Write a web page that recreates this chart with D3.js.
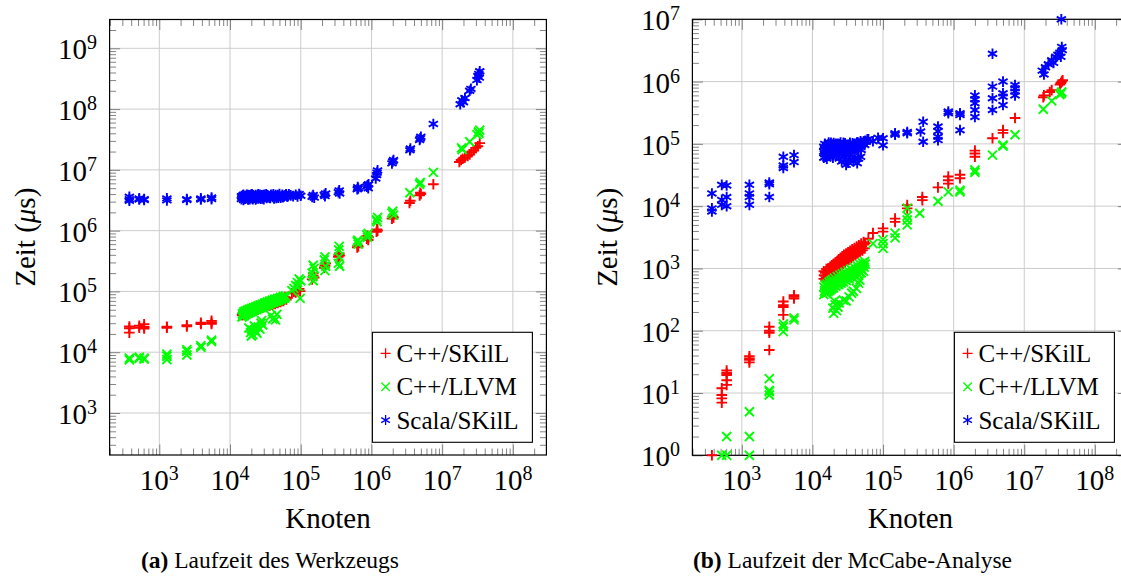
<!DOCTYPE html>
<html><head><meta charset="utf-8">
<script src="https://cdn.jsdelivr.net/npm/d3@7"></script>
<style>body{margin:0;background:#fff}svg{display:block}</style>
</head><body>
<svg id="c" width="1121" height="576"></svg>
<script>
const seriesNames = ["C++/SKilL", "C++/LLVM", "Scala/SKilL"];
const seriesColors = ["#ff0000", "#00ff00", "#0000ff"];
const seriesMarks = ["plus", "times", "asterisk"];
const xTickValues = [1e3, 1e4, 1e5, 1e6, 1e7, 1e8];
const yTickValuesA = [1e3, 1e4, 1e5, 1e6, 1e7, 1e8, 1e9];
const yTickValuesB = [1e0, 1e1, 1e2, 1e3, 1e4, 1e5, 1e6, 1e7];
const xLabel = "Knoten";
const captionA = ["(a)", " Laufzeit des Werkzeugs"];
const captionB = ["(b)", " Laufzeit der McCabe-Analyse"];

// ---------- (a) Laufzeit des Werkzeugs ----------
const aSkill = [
[377,24800],[377,21000],[377,26500],[520,25300],[520,27200],[610,26000],[610,24600],[610,28800],[1280,26200],[1280,25300],[2450,27800],[2450,26600],[3870,30500],[3870,29200],[5480,30800],[5480,29300],[5480,32800],
[14800,41500],[15200,43800],[15600,42500],[16000,45200],[16500,44000],[17000,46300],[17500,45100],[18000,47500],[18600,46400],[19200,49000],[19800,47800],[20500,50200],[21200,49100],[22000,51800],[22800,50500],[23600,53200],[24500,52000],[25400,54800],[26300,53600],[27300,56200],[28300,55000],[29400,57800],[30500,56600],[31700,59500],[33000,58000],[34400,61200],[35800,60000],[37300,63000],[38900,61800],[40600,64800],[42400,63500],[44300,66800],[46300,65500],[48400,69000],[50600,68000],[53000,71500],[55500,70500],[58000,74000],[61000,76500],[64000,79000],
[15000,40500],[15400,45500],[15800,41500],[16200,47000],[16800,43000],[17200,48500],[17800,44500],[18300,50000],[18900,45800],[19500,51500],[20100,47200],[20800,53000],[21600,48600],[22400,54800],[23200,50000],[24000,56500],[25000,51500],[25900,58500],[26800,53000],[27800,60500],[28800,54500],[29900,62500],[31100,56000],[32300,64500],[33700,57500],[35100,66500],[36500,59000],[38100,68500],[39700,60500],[41500,70500],[43300,62500],[45300,73000],[47300,64500],[49500,75500],[51800,67000],[54200,78000],[56800,70000],[59500,80500],[62500,73500],
[75000,93000],[80000,99000],[85000,96000],[90000,104000],[95000,110000],[98000,101000],
[145000,158000],[150000,182000],[150000,198000],[155000,170000],
[215000,245000],[220000,268000],[225000,290000],[220000,255000],
[340000,372000],[345000,400000],[350000,425000],[355000,390000],
[630000,530000],[640000,565000],[650000,550000],
[860000,740000],[880000,820000],[900000,700000],[910000,780000],
[1180000,960000],[1200000,1050000],[1220000,1000000],
[1950000,1580000],[2000000,1720000],[2050000,1650000],
[3450000,2850000],[3550000,3100000],
[4800000,3800000],[4900000,4200000],[5000000,4000000],
[7500000,5800000],
[17500000,13500000],[18500000,14500000],[19500000,15200000],[21000000,16000000],[23000000,17000000],[24500000,18000000],[26000000,19500000],[28000000,21000000],[30000000,23000000],[32000000,24500000],[34000000,27500000]
];
const aLlvm = [
[377,7500],[377,8000],[520,7900],[520,8300],[610,8000],[610,7700],[1280,7600],[1280,8600],[1280,9300],[2450,9000],[2450,10300],[2450,11000],[3870,12000],[3870,12800],[5480,15000],[5480,15800],
[14800,38000],[15200,41000],[15600,44000],[16000,40000],[16500,45500],[17000,42500],[17500,47000],[18000,44000],[18600,48500],[19200,45500],[19800,50000],[20500,47000],[21200,51500],[22000,49000],[22800,53500],[23600,50500],[24500,55500],[25400,52500],[26300,57500],[27300,54500],[28300,59500],[29400,56500],[30500,62000],[31700,58500],[33000,64000],[34400,61000],[35800,66500],[37300,63500],[38900,69000],[40600,66000],[42400,71500],[44300,68500],[46300,74000],[48400,71000],[50600,77000],[53000,74000],[55500,80000],[58000,77000],[61000,84000],
[15000,43000],[15400,39500],[15800,46500],[16200,42000],[16800,48000],[17200,43500],[17800,49500],[18300,45000],[18900,51000],[19500,46500],[20100,52500],[20800,48000],[21600,54000],[22400,50000],[23200,56000],[24000,51500],[25000,58000],[25900,53500],[26800,60000],[27800,55500],[28800,62000],[29900,57500],[31100,64500],[32300,59500],[33700,67000],[35100,62000],[36500,69500],[38100,64500],[39700,72000],[41500,67000],[43300,74500],[45300,69500],[47300,77000],[49500,72500],[51800,80000],[54200,75500],[56800,83000],[59500,79000],
[18500,25000],[19500,21000],[20000,18500],[20500,23000],[21000,19500],[22000,27000],[23000,22500],[24000,20500],[25000,26000],[26500,24000],[27500,30000],[29000,28000],[28000,33000],[38000,40000],[40000,35000],[42000,37000],[44000,34000],[46000,42000],
[75000,103000],[80000,112000],[85000,125000],[90000,140000],[95000,160000],[98000,77000],[92000,120000],[100000,150000],
[145000,200000],[150000,270000],[150000,150000],[155000,240000],[148000,175000],
[215000,330000],[220000,370000],[225000,260000],[220000,220000],
[340000,290000],[345000,480000],[350000,550000],[355000,260000],[348000,370000],
[630000,660000],[650000,600000],[640000,700000],
[860000,850000],[880000,780000],[900000,900000],
[1180000,1500000],[1200000,1400000],[1220000,1650000],
[1950000,1950000],[2000000,2100000],[2050000,1800000],
[3500000,4200000],
[4800000,5800000],[4900000,6200000],
[7500000,9100000],
[18800000,23000000],[19200000,21500000],[24500000,29000000],[31000000,38000000],[32500000,42000000],[34000000,45000000],[33000000,40000000]
];
const aScala = [
[377,3300000],[377,3600000],[377,3100000],[520,3250000],[520,3400000],[610,3300000],[610,3200000],[1280,3400000],[1280,3150000],[2450,3300000],[2450,3200000],[3870,3250000],[3870,3400000],[5480,3500000],[5480,3300000],
[14500,3300000],[14500,3700000],[15000,3500000],[15500,3200000],[15500,3900000],[16000,3600000],[16500,3350000],[17000,3750000],[17500,3450000],[18000,3250000],[18000,3850000],[18500,3550000],[19000,3300000],[19500,3700000],[20000,3450000],[20500,3950000],[21000,3300000],[21500,3650000],[22000,3500000],[23000,3850000],[23000,3250000],[24000,3600000],[25000,3400000],[25000,3950000],[26000,3700000],[27000,3350000],[28000,3800000],[29000,3550000],[30000,3300000],[31000,3900000],[32000,3600000],[33000,3450000],[34000,3800000],[36000,3500000],[38000,3900000],[40000,3600000],[42000,3400000],[44000,3850000],[46000,3650000],[48000,3500000],[50000,4000000],[53000,3700000],[56000,3550000],[60000,3800000],[64000,3650000],[68000,3950000],
[14800,3500000],[15200,3800000],[15800,3400000],[16300,3700000],[16800,3500000],[17300,3900000],[17800,3600000],[18300,3400000],[18800,3800000],[19300,3500000],[19800,3900000],[20300,3600000],[20800,3400000],[21300,3800000],[22500,3600000],[23500,3400000],[24500,3800000],[25500,3550000],[26500,3900000],[27500,3600000],[28500,3400000],[29500,3850000],[30500,3650000],[32500,3950000],[35000,3700000],[37000,3450000],[39000,3750000],[41000,3950000],[43000,3650000],[45000,3450000],[47000,3850000],[49000,3700000],[52000,3500000],[55000,3900000],[58000,3650000],[62000,3950000],[66000,3700000],[72000,3800000],[78000,3700000],
[85000,3900000],[90000,3650000],[95000,4000000],[100000,3750000],
[145000,3600000],[150000,3850000],[155000,3500000],
[215000,3900000],[220000,3700000],[225000,4100000],
[340000,4300000],[350000,4600000],[355000,4100000],
[630000,4800000],[640000,5200000],[650000,4950000],
[860000,5300000],[880000,5600000],[900000,5000000],[910000,5800000],
[1150000,7200000],[1180000,8200000],[1200000,9000000],[1220000,9800000],
[1950000,12800000],[2000000,13700000],[2050000,14500000],
[3500000,21000000],[3550000,22500000],
[4800000,31000000],[4900000,33000000],[5000000,35000000],
[7500000,57000000],
[18000000,120000000],[19000000,140000000],[20000000,130000000],[21000000,152000000],[24500000,200000000],[25500000,215000000],[31000000,300000000],[32000000,350000000],[33000000,380000000],[34000000,420000000],[33500000,330000000]
];

// ---------- (b) Laufzeit der McCabe-Analyse ----------
const bSkill = [
[377,1],[520,7],[520,9.3],[520,11.9],[520,8.2],[610,16],[610,19.5],[610,23],[610,13.5],[610,21],[1280,36],[1280,31],[1280,39],[1280,34],[2450,93],[2450,116],[2450,49],[2450,100],[3870,258],[3870,180],[3870,295],[3870,240],[5480,330],[5480,372],[5480,350],
[14500,680],[14500,900],[15000,760],[15200,850],[15600,720],[16000,880],[16400,800],[16800,940],[17200,830],[17600,980],[18000,900],[18500,1020],[19000,930],[19500,1080],[20000,980],[20500,1120],[21000,1030],[21500,1170],[22000,1080],[22600,1220],[23200,1130],[23800,1280],[24500,1180],[25200,1340],[26000,1240],[26800,1410],[27600,1300],[28500,1480],[29500,1370],[30500,1560],[31500,1450],[32500,1650],[33600,1520],[34800,1730],[36000,1600],[37300,1820],[38600,1690],[40000,1920],[41500,1780],[43000,2030],[44600,1880],[46300,2150],[48000,1980],[50000,2280],[52000,2100],[54000,2420],[56000,2550],
[14600,780],[15400,640],[15800,980],[16200,700],[16600,1000],[17400,760],[17800,1060],[18200,820],[18800,1120],[19200,860],[19800,1180],[20400,900],[21200,1250],[21800,960],[22400,1320],[23000,1020],[23600,1400],[24200,1080],[25000,1480],[25800,1140],[26500,1560],[27200,1200],[28000,1650],[29000,1260],[30000,1740],[31000,1330],[32000,1820],[33000,1400],[34200,1920],[35400,1480],[36600,2020],[38000,1560],[39400,2120],[40800,1650],[42300,2240],[43800,1740],[45500,2360],[47200,1840],[49000,2500],[51000,1950],[53000,2650],[55000,2100],
[62000,3000],[72000,3700],[100000,4400],[100000,3900],[148000,6300],[148000,5600],[220000,10400],[220000,9200],[360000,14000],[360000,12500],[600000,20000],[840000,23000],[840000,30000],[840000,26000],[1230000,32000],[1230000,28000],[2000000,70000],[2000000,62000],[2000000,78000],[3550000,123000],[5000000,166000],[5000000,150000],[7400000,260000],[18600000,560000],[19000000,600000],[24500000,730000],[23000000,680000],[32000000,900000],[34000000,1000000],[33000000,950000],[35000000,1050000]
];
const bLlvm = [
[520,1],[610,1],[610,2],[1280,1],[1280,2],[1280,5],[2450,9.3],[2450,10.5],[2450,17],[2450,11],[3870,97],[3870,116],[3870,129],[5480,149],[5480,160],
[14500,380],[14500,500],[15000,440],[15500,470],[16000,420],[16500,510],[17000,460],[17500,540],[18000,480],[18500,560],[19000,500],[19500,590],[20000,530],[21000,600],[22000,560],[23000,640],[24000,590],[25000,680],[26000,620],[27000,720],[28000,660],[29500,760],[31000,700],[32500,800],[34000,740],[36000,850],[38000,790],[40000,900],[42000,840],[44000,960],[46000,900],[48000,1020],[50000,960],[52000,1100],[54000,1050],[56000,1180],
[14800,420],[15200,540],[15800,400],[16200,560],[16800,430],[17200,600],[17800,450],[18200,630],[18800,470],[19200,660],[19800,490],[20500,700],[21500,520],[22500,740],[23500,550],[24500,780],[25500,580],[26500,820],[27500,610],[28800,870],[30200,640],[31800,920],[33200,680],[35000,980],[37000,720],[39000,1040],[41000,760],[43000,1100],[45000,800],[47000,1160],[49000,850],[51000,1230],[53000,900],[55000,1300],
[19500,230],[20000,190],[21000,260],[22000,210],[24000,280],[27500,310],[30000,300],[33000,350],[36000,400],[38000,430],[42000,480],[45000,580],[47000,650],[20500,300],[23000,240],
[72000,2500],[100000,2500],[100000,2900],[100000,2100],[148000,3100],[148000,3700],[220000,5000],[220000,7000],[220000,9300],[220000,6000],[330000,7700],[600000,12000],[840000,17000],[1230000,17000],[1230000,18000],[2000000,38000],[2000000,35000],[3550000,66000],[5000000,92000],[5000000,96000],[7400000,140000],[18600000,360000],[24500000,490000],[32000000,620000],[34000000,680000],[33500000,650000]
];
const bScala = [
[377,16000],[377,9200],[377,8200],[520,22000],[520,12600],[520,10500],[610,21500],[610,10000],[610,14000],[1280,22000],[1280,14000],[1280,10500],[1280,16000],[2450,24000],[2450,14000],[2450,22500],[3870,62000],[3870,41000],[3870,45000],[5480,66000],[5480,51000],
[14500,60000],[14500,75000],[14500,90000],[15000,68000],[15000,100000],[15500,82000],[16000,58000],[16000,95000],[16500,72000],[17000,88000],[17000,105000],[17500,64000],[18000,80000],[18000,98000],[18500,70000],[19000,92000],[19500,60000],[20000,85000],[20000,103000],[21000,75000],[21000,95000],[22000,66000],[22000,88000],[23000,100000],[23000,78000],[24000,58000],[24000,92000],[25000,84000],[25000,105000],[26000,70000],[27000,96000],[28000,80000],[28000,62000],[29000,102000],[30000,88000],[30000,46000],[31000,74000],[32000,96000],[33000,82000],[34000,104000],[35000,68000],[36000,92000],[38000,85000],[40000,100000],[42000,90000],[43000,49000],[44000,105000],[46000,95000],[48000,62000],[48000,110000],[50000,98000],[53000,108000],[56000,112000],[60000,118000],[33000,55000],[38000,52000],[45000,58000],
[14800,82000],[15200,62000],[15800,92000],[16200,76000],[16800,98000],[17300,70000],[17800,90000],[18300,104000],[18800,84000],[19300,66000],[19800,96000],[20500,78000],[21500,100000],[22500,84000],[23500,70000],[24500,98000],[25500,76000],[26500,90000],[27500,104000],[28500,86000],[29500,72000],[31500,90000],[33500,98000],[35500,80000],[37000,102000],[39000,76000],[41000,94000],[43000,106000],[45000,86000],[47000,100000],[49000,80000],[52000,102000],[55000,96000],[58000,108000],[32000,50000],[26000,52000],[40000,60000],
[62000,118000],[72000,110000],[85000,125000],[100000,123000],[100000,95000],[148000,148000],[148000,140000],[220000,148000],[220000,155000],[340000,158000],[370000,226000],[370000,108000],[600000,190000],[600000,160000],[600000,130000],[600000,115000],[840000,330000],[840000,310000],[1230000,310000],[1230000,166000],[1230000,290000],[2000000,450000],[2000000,600000],[2000000,520000],[2000000,350000],[2000000,270000],[3550000,2800000],[3550000,830000],[3550000,540000],[3550000,350000],[5000000,1000000],[5000000,570000],[5000000,420000],[5000000,650000],[7400000,880000],[7400000,690000],[7400000,780000],[7400000,600000],[18000000,1500000],[19000000,1300000],[20000000,1700000],[22000000,1900000],[24500000,2200000],[26000000,2000000],[28000000,2500000],[30000000,2700000],[32000000,2900000],[34000000,3600000],[33000000,2500000],[34500000,3200000],[33500000,10000000]
];

const FONT = "'Liberation Serif','Times New Roman',serif";
const svg = d3.select("#c");
svg.append("rect").attr("width", 1121).attr("height", 576).attr("fill", "#fff");

function markPath(kind, r) {
  if (kind === "plus") return `M${-r},0H${r}M0,${-r}V${r}`;
  if (kind === "times") { const q = r * 0.85; return `M${-q},${-q}L${q},${q}M${-q},${q}L${q},${-q}`; }
  const t = r / 2, u = t * Math.sqrt(3);
  return `M0,${-r}V${r}M${-u},${-t}L${u},${t}M${-u},${t}L${u},${-t}`;
}

function minorValues(dom) {
  const out = [];
  const k0 = Math.floor(Math.log10(dom[0])), k1 = Math.ceil(Math.log10(dom[1]));
  for (let k = k0; k <= k1; k++) for (let m = 2; m <= 9; m++) {
    const v = m * Math.pow(10, k);
    if (v > dom[0] && v < dom[1]) out.push(v);
  }
  return out;
}

function drawPlot(cfg) {
  const {x0, x1, y0, y1} = cfg;
  const g = svg.append("g");
  const x = d3.scaleLog().domain(cfg.xDom).range([x0, x1]);
  const y = d3.scaleLog().domain(cfg.yDom).range([y1, y0]);
  const xT = cfg.xTicks.filter(v => v >= cfg.xDom[0] && v <= cfg.xDom[1]);
  const yT = cfg.yTicks;

  g.append("g").selectAll("line").data(xT).join("line")
    .attr("x1", d => x(d)).attr("x2", d => x(d)).attr("y1", y0).attr("y2", y1)
    .attr("stroke", "#cccccc").attr("stroke-width", 1);
  g.append("g").selectAll("line").data(yT).join("line")
    .attr("y1", d => y(d)).attr("y2", d => y(d)).attr("x1", x0).attr("x2", x1)
    .attr("stroke", "#cccccc").attr("stroke-width", 1);

  function ticks(axisFn, scale, vals, size, tr) {
    const a = axisFn(scale).tickValues(vals).tickSize(size).tickFormat("");
    const gg = g.append("g").attr("transform", tr).call(a);
    gg.select(".domain").remove();
    gg.selectAll("text").remove();
    gg.selectAll("line").attr("stroke", "#777").attr("stroke-width", 0.9);
  }
  const xm = minorValues(cfg.xDom), ym = minorValues(cfg.yDom);
  ticks(d3.axisBottom, x, xT, -10.5, `translate(0,${y1})`);
  ticks(d3.axisTop, x, xT, -10.5, `translate(0,${y0})`);
  ticks(d3.axisBottom, x, xm, -6.5, `translate(0,${y1})`);
  ticks(d3.axisTop, x, xm, -6.5, `translate(0,${y0})`);
  ticks(d3.axisLeft, y, yT, -10.5, `translate(${x0},0)`);
  ticks(d3.axisRight, y, yT, -10.5, `translate(${x1},0)`);
  ticks(d3.axisLeft, y, ym, -6.5, `translate(${x0},0)`);
  ticks(d3.axisRight, y, ym, -6.5, `translate(${x1},0)`);

  g.append("rect").attr("x", x0).attr("y", y0).attr("width", x1 - x0).attr("height", y1 - y0)
    .attr("fill", "none").attr("stroke", "#000").attr("stroke-width", 1.2);

  function pow(sel, d) {
    sel.append("tspan").text("10");
    sel.append("tspan").attr("dy", -10).attr("font-size", 20).text(String(Math.round(Math.log10(d))));
  }
  g.append("g").selectAll("text").data(xT).join("text")
    .attr("x", d => x(d)).attr("y", 490).attr("text-anchor", "middle")
    .attr("font-family", FONT).attr("font-size", 29).attr("fill", "#000")
    .each(function(d) { pow(d3.select(this), d); });
  g.append("g").selectAll("text").data(yT).join("text")
    .attr("x", x0 - 12.5).attr("y", d => y(d) + 11).attr("text-anchor", "end")
    .attr("font-family", FONT).attr("font-size", 29).attr("fill", "#000")
    .each(function(d) { pow(d3.select(this), d); });

  g.append("text").attr("x", (x0 + x1) / 2).attr("y", 528).attr("text-anchor", "middle")
    .attr("font-family", FONT).attr("font-size", 29).text(xLabel);
  const yl = g.append("text").attr("transform", `translate(${cfg.ylabX},${(y0 + y1) / 2}) rotate(-90)`)
    .attr("text-anchor", "middle").attr("font-family", FONT).attr("font-size", 29);
  yl.append("tspan").text("Zeit (");
  yl.append("tspan").attr("font-style", "italic").text("\u03bc");
  yl.append("tspan").text("s)");

  cfg.series.forEach((data, i) => {
    g.append("g").selectAll("path").data(data).join("path")
      .attr("transform", d => `translate(${x(d[0])},${y(d[1])})`)
      .attr("d", markPath(seriesMarks[i], 5.3))
      .attr("fill", "none").attr("stroke", seriesColors[i]).attr("stroke-width", 1.9);
  });

  const lx = x1 - 174, ly = 332.3;
  const lg = g.append("g");
  lg.append("rect").attr("x", lx).attr("y", ly).attr("width", 160).attr("height", 110)
    .attr("fill", "#fff").attr("stroke", "#000").attr("stroke-width", 1.1);
  seriesNames.forEach((nm, i) => {
    const cy = ly + 21 + i * 33.4;
    lg.append("path").attr("transform", `translate(${lx + 13.2},${cy})`)
      .attr("d", markPath(seriesMarks[i], 5)).attr("fill", "none")
      .attr("stroke", seriesColors[i]).attr("stroke-width", 1.3);
    lg.append("text").attr("x", lx + 24).attr("y", cy + 8.4)
      .attr("font-family", FONT).attr("font-size", 25).text(nm);
  });

  const cap = svg.append("text").attr("x", cfg.capX).attr("y", 568).attr("text-anchor", "middle")
    .attr("font-family", FONT).attr("font-size", 23.5);
  cap.append("tspan").attr("font-weight", "bold").text(cfg.caption[0]);
  cap.append("tspan").text(cfg.caption[1]);
}

drawPlot({
  x0: 109.6, x1: 546.4, y0: 19.5, y1: 455,
  xDom: [Math.pow(10, 2.297), Math.pow(10, 8.474)],
  yDom: [Math.pow(10, 2.309), Math.pow(10, 9.474)],
  xTicks: xTickValues, yTicks: yTickValuesA,
  series: [aSkill, aLlvm, aScala], ylabX: 35, capX: 270, caption: captionA
});
drawPlot({
  x0: 692.4, x1: 1128.4, y0: 19.3, y1: 455.3,
  xDom: [Math.pow(10, 2.30), Math.pow(10, 8.475)],
  yDom: [1, 1e7],
  xTicks: xTickValues, yTicks: yTickValuesB,
  series: [bSkill, bLlvm, bScala], ylabX: 617, capX: 852.5, caption: captionB
});
</script>
</body></html>
